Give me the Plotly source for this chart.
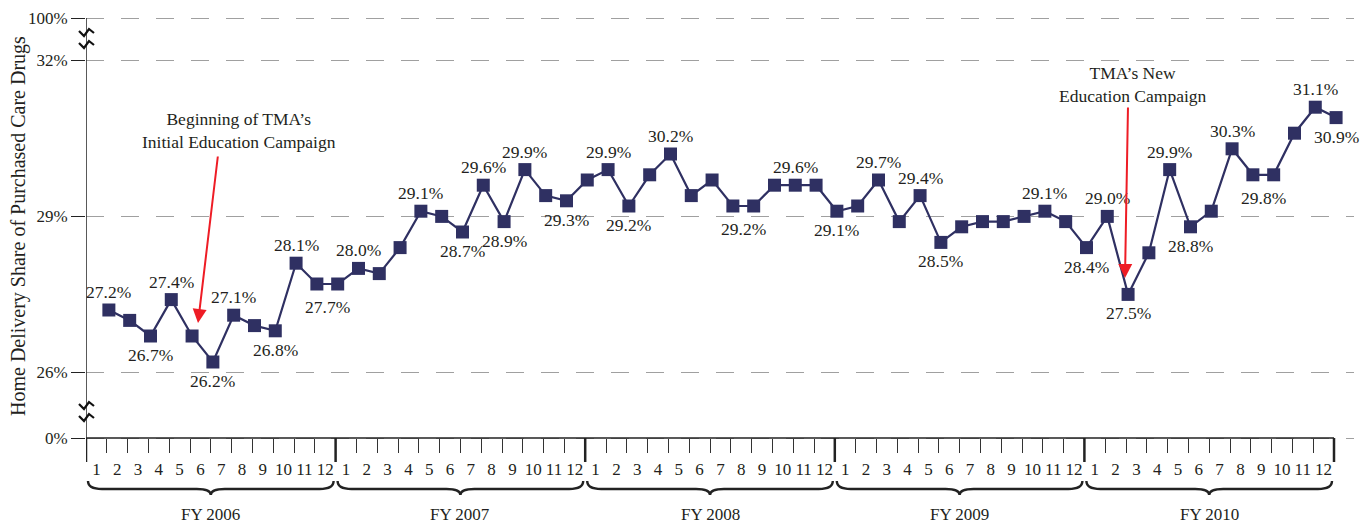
import plotly.graph_objects as go

# ---------------- data ----------------
fiscal_years = ["FY 2006", "FY 2007", "FY 2008", "FY 2009", "FY 2010"]
months_of_year = ["1", "2", "3", "4", "5", "6", "7", "8", "9", "10", "11", "12"]
share_pct = [27.2, 27.0, 26.7, 27.4, 26.7, 26.2, 27.1, 26.9, 26.8, 28.1, 27.7, 27.7,
             28.0, 27.9, 28.4, 29.1, 29.0, 28.7, 29.6, 28.9, 29.9, 29.4, 29.3, 29.7,
             29.9, 29.2, 29.8, 30.2, 29.4, 29.7, 29.2, 29.2, 29.6, 29.6, 29.6, 29.1,
             29.2, 29.7, 28.9, 29.4, 28.5, 28.8, 28.9, 28.9, 29.0, 29.1, 28.9, 28.4,
             29.0, 27.5, 28.3, 29.9, 28.8, 29.1, 30.3, 29.8, 29.8, 30.6, 31.1, 30.9]
# labelled points: month index (x.5 = centred between two equal months), side
label_months = [1, 3, 4, 6, 7, 9, 10, 11.5, 13, 16, 18, 19, 20, 21, 23, 25, 26, 28,
                31.5, 34, 36, 38, 40, 41, 46, 48, 49, 50, 52, 53, 55, 56.5, 59, 60]
label_sides = ["top", "bottom", "top", "bottom", "top", "bottom", "top", "bottom",
               "top", "top", "bottom", "top", "bottom", "top", "bottom", "top",
               "bottom", "top", "bottom", "top", "bottom", "top", "top", "bottom",
               "top", "bottom", "top", "bottom", "top", "bottom", "top", "bottom",
               "top", "bottom"]
y_tick_labels = ["0%", "26%", "29%", "32%", "100%"]
y_tick_values = [26, 29, 32]
y_title = "Home Delivery Share of Purchased Care Drugs"
note_1 = "Beginning of TMA’s<br>Initial Education Campaign"
note_2 = "TMA’s New<br>Education Campaign"

# ---------------- geometry / style ----------------
W, H = 1370, 525
ML, MR = 86, 16
PW = W - ML - MR
PXX = 20.8                      # px per month
X0 = -0.1
X1 = X0 + PW / PXX
PXY = 52.0                      # px per percentage point
Y1 = 26.2 + 362 / PXY
Y0 = Y1 - H / PXY
AX_BOT = Y1 - 438 / PXY         # broken-axis "0%"
AX_TOP = Y1 - 18 / PXY          # broken-axis "100%"


def xp(px):
    return X0 + (px - ML) / PXX


def dy(px):
    return px / PXY


def paper_x(px):
    return (px - ML) / PW


def paper_y(py):
    return 1 - py / H


FONT = "Liberation Serif, Times New Roman, serif"
TXT = "#231f20"
NAVY = "#2f3062"
RED = "#ee1c25"

n = len(share_pct)
months = list(range(1, n + 1))

fig = go.Figure()
fig.add_trace(go.Scatter(
    x=months, y=share_pct, mode="lines+markers",
    line=dict(color=NAVY, width=2.2),
    marker=dict(symbol="square", size=13, color=NAVY, line=dict(width=0)),
    hoverinfo="skip", showlegend=False, cliponaxis=False))

annotations = []
for m, side in zip(label_months, label_sides):
    v = share_pct[int(m) - 1]
    shift = 18 if side == "top" else (-23 if m != int(m) else -19)
    annotations.append(dict(x=m, y=v, xref="x", yref="y", text=f"{v:.1f}%",
                            showarrow=False, yshift=shift,
                            font=dict(family=FONT, size=17.5, color=TXT)))

shapes = []
# axes lines
shapes.append(dict(type="line", xref="x", yref="y", x0=X0, x1=X0, y0=AX_BOT, y1=AX_TOP,
                   line=dict(color="#222", width=1.5)))
shapes.append(dict(type="line", xref="x", yref="y", x0=X0, x1=X0 + n, y0=AX_BOT, y1=AX_BOT,
                   line=dict(color="#222", width=1.5)))
# year separators + braces + labels
for i, fy in enumerate(fiscal_years):
    xa = X0 + 12 * i
    xb = xa + 12
    shapes.append(dict(type="line", xref="x", yref="y", x0=xa, x1=xa,
                       y0=AX_BOT, y1=AX_BOT - dy(24), line=dict(color="#222", width=2.5)))
    if i == len(fiscal_years) - 1:
        shapes.append(dict(type="line", xref="x", yref="y", x0=xb, x1=xb,
                           y0=AX_BOT, y1=AX_BOT - dy(24), line=dict(color="#222", width=2.5)))
    a = xa + 2 / PXX
    b = xb - 2 / PXX
    m = (a + b) / 2
    d = 14 / PXX
    ye = AX_BOT - dy(43)
    yb = AX_BOT - dy(51)
    yt = AX_BOT - dy(57)
    path = (f"M {a},{ye} Q {a},{yb} {a + d},{yb} L {m - d},{yb} Q {m},{yb} {m},{yt} "
            f"Q {m},{yb} {m + d},{yb} L {b - d},{yb} Q {b},{yb} {b},{ye}")
    shapes.append(dict(type="path", xref="x", yref="y", path=path,
                       line=dict(color="#222", width=2.4)))
    annotations.append(dict(x=m, y=AX_BOT - dy(76), xref="x", yref="y", text=fy,
                            showarrow=False, font=dict(family=FONT, size=17, color=TXT)))

# axis-break marks (paper coords so they are not clipped at the plot edge)
for pyc in (32, 44, 405, 417):
    path = (f"M {paper_x(79)},{paper_y(pyc - 1)} L {paper_x(84)},{paper_y(pyc + 4)} "
            f"L {paper_x(89)},{paper_y(pyc - 3)} L {paper_x(94)},{paper_y(pyc + 1)}")
    shapes.append(dict(type="path", xref="paper", yref="paper", path=path,
                       line=dict(color="#111", width=2.2)))

# notes + arrows
annotations.append(dict(x=xp(239), y=Y1 - 130 / PXY, xref="x", yref="y", text=note_1,
                        showarrow=False, font=dict(family=FONT, size=17.5, color=TXT)))
annotations.append(dict(x=xp(1133), y=Y1 - 84 / PXY, xref="x", yref="y", text=note_2,
                        showarrow=False, font=dict(family=FONT, size=17.5, color=TXT)))
annotations.append(dict(x=xp(198), y=Y1 - 323 / PXY, ax=xp(218), ay=Y1 - 155 / PXY,
                        xref="x", yref="y", axref="x", ayref="y", text="",
                        showarrow=True, arrowhead=2, arrowsize=1.4, arrowwidth=2,
                        arrowcolor=RED))
annotations.append(dict(x=xp(1125), y=Y1 - 278 / PXY, ax=xp(1128), ay=Y1 - 106 / PXY,
                        xref="x", yref="y", axref="x", ayref="y", text="",
                        showarrow=True, arrowhead=2, arrowsize=1.4, arrowwidth=2,
                        arrowcolor=RED))
# y title (paper coords so it is drawn outside the plot area)
annotations.append(dict(x=paper_x(18), y=paper_y(226), xref="paper", yref="paper",
                        xanchor="center", yanchor="middle",
                        text=y_title, textangle=-90, showarrow=False,
                        font=dict(family=FONT, size=20, color=TXT)))

fig.update_layout(
    width=W, height=H,
    margin=dict(l=ML, r=MR, t=0, b=0),
    paper_bgcolor="white", plot_bgcolor="white",
    shapes=shapes, annotations=annotations,
    font=dict(family=FONT, size=17, color=TXT),
    xaxis=dict(range=[X0, X1], anchor="free", position=(AX_BOT - Y0) / (Y1 - Y0),
               showline=False, showgrid=False, zeroline=False,
               tickmode="array", tickvals=[k - 0.6 for k in months],
               ticktext=months_of_year * len(fiscal_years), tickangle=0,
               ticks="outside", ticklen=16, tickcolor="rgba(0,0,0,0)",
               tickfont=dict(family=FONT, size=17, color=TXT),
               minor=dict(tickmode="linear", tick0=X0, dtick=1, ticks="outside",
                          ticklen=14, tickwidth=1.2, tickcolor="#333", showgrid=False)),
    yaxis=dict(range=[Y0, Y1], showline=False, zeroline=False,
               tickmode="array", tickvals=[AX_BOT] + y_tick_values + [AX_TOP],
               ticktext=y_tick_labels, ticks="outside", ticklen=14, tickwidth=1.2,
               tickcolor="#222", showgrid=True, gridcolor="#a0a0a0", gridwidth=1,
               griddash="18px,17px",
               tickfont=dict(family=FONT, size=17, color=TXT)),
)

fig.write_html("out.html", config={"displayModeBar": False},
               post_script="document.body.style.margin='0';document.body.style.overflow='hidden';")
